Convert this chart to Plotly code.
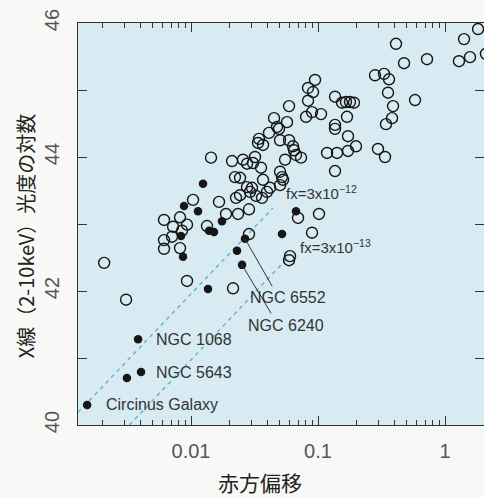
import math
import plotly.graph_objects as go

# ---- data ----
# open circles: redshift, log L(2-10 keV)
open_z = [0.00207, 0.00308, 0.00930, 0.02143,
          0.00613, 0.00722, 0.00613, 0.00708, 0.00613, 0.00819, 0.00849, 0.00819,
          0.00930, 0.01037, 0.01336, 0.01437, 0.01661, 0.01886, 0.02345, 0.02862,
          0.02862, 0.02261,
          0.02104, 0.02219, 0.02432, 0.02566, 0.02761, 0.03076, 0.03191, 0.02761,
          0.03020, 0.03371, 0.03690, 0.03430, 0.03558, 0.03690, 0.04188, 0.04112,
          0.04507, 0.04757, 0.04932, 0.05023, 0.05913, 0.05702, 0.05913, 0.05023,
          0.05207, 0.05303, 0.05500, 0.06355, 0.06472, 0.06710, 0.07350, 0.08048,
          0.08345, 0.08345, 0.08970, 0.09138, 0.09470, 0.1056,
          0.02432, 0.02915, 0.03250, 0.03622, 0.03966, 0.05023,
          0.06958, 0.1018, 0.08970, 0.06022, 0.05913, 0.1361, 0.1178, 0.1412,
          0.1722, 0.1991, 0.1722, 0.1361, 0.1361, 0.1691, 0.1545, 0.1660,
          0.1785, 0.1920, 0.1361,
          0.2810, 0.3311, 0.3622, 0.3558, 0.3897, 0.3826, 0.3431, 0.2966,
          0.3371, 0.5805, 0.4112, 0.4757, 0.7216, 1.288, 1.573, 1.412, 1.820, 2.10]
open_logL = [42.42, 41.87, 42.15, 42.04,
             43.06, 42.96, 42.76, 42.81, 42.63, 43.10, 42.90, 42.64,
             42.99, 43.36, 42.97, 43.99, 43.33, 43.15, 43.15, 43.22,
             42.85, 43.39,
             43.94, 43.70, 43.69, 43.96, 43.90, 43.91, 44.00, 43.55,
             43.54, 44.21, 44.18, 44.27, 43.84, 43.66, 43.54, 44.36,
             44.58, 44.45, 44.42, 44.25, 44.25, 44.52, 44.76, 43.78,
             43.70, 43.66, 43.96, 44.16, 44.10, 44.03, 43.99, 44.60,
             45.03, 44.84, 44.67, 44.97, 45.15, 44.64,
             43.43, 43.48, 43.42, 43.39, 43.48, 43.58,
             43.09, 43.15, 42.87, 42.52, 42.46, 43.79, 44.06, 44.06,
             44.09, 44.16, 44.31, 44.48, 44.42, 44.60, 44.81, 44.82,
             44.82, 44.81, 44.90,
             45.22, 45.24, 45.16, 44.96, 44.76, 44.58, 44.49, 44.12,
             44.00, 44.85, 45.69, 45.40, 45.46, 45.43, 45.49, 45.76, 45.91, 45.54]

# filled circles
filled_z = [0.00152, 0.00313, 0.00404, 0.00383, 0.01361, 0.00865, 0.00834,
            0.00881, 0.01135, 0.01243, 0.01386, 0.01517, 0.01754, 0.02303,
            0.02522, 0.02661, 0.05207, 0.06710]
filled_logL = [40.30, 40.70, 40.79, 41.28, 42.03, 42.51, 42.82,
               43.27, 43.19, 43.60, 42.90, 42.88, 43.04, 42.60,
               42.39, 42.78, 42.85, 43.19]

# flux-limit lines (end points)
lim12_z = [0.00129, 0.0442]
lim12_logL = [40.19, 43.24]
lim13_z = [0.00327, 0.0581]
lim13_logL = [40.00, 42.50]

# labelled galaxies
ngc6552 = (0.02661, 42.78)
ngc6240 = (0.02522, 42.39)

x_tickvals = [0.01, 0.1, 1]
x_ticktext = ["0.01", "0.1", "1"]
x_minor = [0.002, 0.003, 0.004, 0.005, 0.006, 0.007, 0.008, 0.009,
           0.02, 0.03, 0.04, 0.05, 0.06, 0.07, 0.08, 0.09,
           0.2, 0.3, 0.4, 0.5, 0.6, 0.7, 0.8, 0.9, 2]
y_tickvals = [40, 42, 44, 46]
y_minor = [41, 43, 45]

# ---- figure ----
INK = "#161616"
DASH = "#4fb3c9"
TICKFONT = dict(family="Liberation Sans", size=20, color="#555555")

fig = go.Figure()
fig.add_trace(go.Scatter(x=lim12_z, y=lim12_logL, mode="lines",
                         line=dict(color=DASH, width=1.3, dash="4px,4px"),
                         hoverinfo="skip", showlegend=False))
fig.add_trace(go.Scatter(x=lim13_z, y=lim13_logL, mode="lines",
                         line=dict(color=DASH, width=1.3, dash="4px,4px"),
                         hoverinfo="skip", showlegend=False))
fig.add_trace(go.Scatter(x=open_z, y=open_logL, mode="markers",
                         marker=dict(symbol="circle-open", size=11,
                                     line=dict(color=INK, width=1.4), color=INK),
                         showlegend=False))
fig.add_trace(go.Scatter(x=filled_z, y=filled_logL, mode="markers",
                         marker=dict(symbol="circle", size=8.5, color=INK,
                                     line=dict(width=0)),
                         showlegend=False))

ann = []
def label(x, y, text, size=16):
    ann.append(dict(x=x, y=y, xref="x", yref="y", text=text, showarrow=False,
                    xanchor="left", yanchor="middle",
                    font=dict(family="Liberation Sans", size=size, color="#333333")))

label(math.log10(0.00512), 41.28, "NGC 1068")
label(math.log10(0.00512), 40.79, "NGC 5643")
label(math.log10(0.00207), 40.30, "Circinus Galaxy")
label(math.log10(0.0279), 41.90, "NGC 6552")
label(math.log10(0.0270), 41.48, "NGC 6240")
label(math.log10(0.0535), 43.47, "fx=3x10<sup>−12</sup>", size=15)
label(math.log10(0.0695), 42.66, "fx=3x10<sup>−13</sup>", size=15)

for (gx, gy), (dx, dy) in [(ngc6552, (28, 49)), (ngc6240, (30, 50))]:
    ann.append(dict(x=math.log10(gx), y=gy, xref="x", yref="y", text="",
                    showarrow=True, arrowhead=0, arrowwidth=1, arrowcolor="#333333",
                    ax=dx, ay=dy, standoff=0, startstandoff=0))

# axis titles
ann.append(dict(x=0.448, y=-0.143, xref="paper", yref="paper",
                text="赤方偏移", showarrow=False, xanchor="center", yanchor="middle",
                font=dict(family="Noto Sans CJK JP", size=21, color="#222222")))
ann.append(dict(x=-0.13, y=0.47, xref="paper", yref="paper",
                text="X線（2-10keV）光度の対数", showarrow=False, textangle=-90,
                xanchor="center", yanchor="middle",
                font=dict(family="Noto Sans CJK JP", size=20, color="#222222")))

fig.update_layout(
    width=484, height=497,
    margin=dict(l=78, r=0, t=23, b=72),
    paper_bgcolor="#f8f8f7",
    plot_bgcolor="#d8ebf3",
    annotations=ann,
    showlegend=False,
)
fig.update_xaxes(type="log", range=[-2.89, 0.307],
                 tickvals=x_tickvals, ticktext=x_ticktext,
                 ticks="inside", ticklen=9, tickwidth=1, tickcolor="#333333",
                 showline=True, linecolor="#333333", linewidth=1, mirror="ticks",
                 showgrid=False, zeroline=False, tickfont=TICKFONT,
                 ticklabelstandoff=8,
                 minor=dict(tickvals=x_minor, ticks="inside", ticklen=5,
                            tickcolor="#333333", showgrid=False))
fig.update_yaxes(range=[40, 46], tickvals=y_tickvals,
                 ticks="inside", ticklen=9, tickwidth=1, tickcolor="#333333",
                 showline=True, linecolor="#333333", linewidth=1, mirror="ticks",
                 showgrid=False, zeroline=False, tickfont=TICKFONT, tickangle=-90,
                 ticklabelstandoff=10,
                 minor=dict(tickvals=y_minor, ticks="inside", ticklen=9,
                            tickcolor="#333333", showgrid=False))

fig.write_html("out.html", config={"displayModeBar": False},
               post_script="document.body.style.margin='0';document.body.style.overflow='hidden';")
